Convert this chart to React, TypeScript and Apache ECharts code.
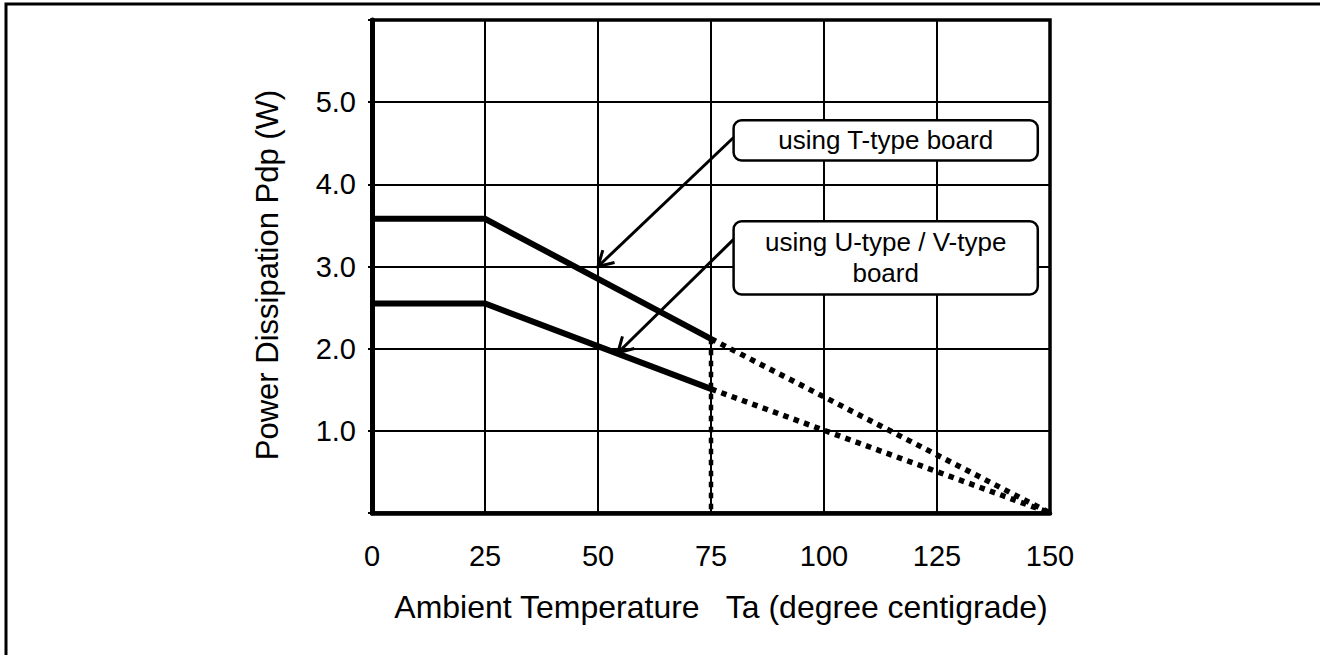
import React, { useEffect, useRef } from "react";
import * as echarts from "echarts";

const xTicks = [0, 25, 50, 75, 100, 125, 150];
const yTickLabels = ["", "1.0", "2.0", "3.0", "4.0", "5.0", ""];
const tTypeSolid = [[0, 3.58], [25, 3.58], [75, 2.12]];
const tTypeDotted = [[75, 2.12], [150, 0]];
const uTypeSolid = [[0, 2.55], [25, 2.55], [75, 1.51]];
const uTypeDotted = [[75, 1.51], [150, 0]];
const limitLine = [[75, 2.12], [75, 0]];
const tArrow = { from: [80, 4.57], to: [50, 3.0] };
const uArrow = { from: [80, 3.33], to: [54.4, 1.95] };
const tBox = { x0: 80, x1: 147.3, y0: 4.78, y1: 4.29, lines: ["using T-type board"] };
const uBox = { x0: 80, x1: 147.3, y0: 3.55, y1: 2.66, lines: ["using U-type / V-type", "board"] };
const xName = "Ambient Temperature   Ta (degree centigrade)";
const yName = "Power Dissipation Pdp (W)";

const FONT = "'Liberation Sans', Arial, Helvetica, sans-serif";

export default function App() {
  const ref = useRef<HTMLDivElement>(null);
  useEffect(() => {
    document.body.style.margin = "0";
    const chart = echarts.init(ref.current!, null, { renderer: "svg" });
    const solid = (data: number[][]) => ({
      type: "line", data, symbol: "none", silent: true,
      lineStyle: { color: "#000", width: 6, cap: "butt", join: "miter" },
    });
    const dotted = (data: number[][], w = 5.5) => ({
      type: "line", data, symbol: "none", silent: true,
      lineStyle: { color: "#000", width: w, type: [5.5, 5.5], cap: "butt" },
    });
    chart.setOption({
      animation: false,
      backgroundColor: "#fff",
      grid: { left: 372, top: 20, right: 270, bottom: 142, show: true, borderColor: "#000", borderWidth: 3.5, backgroundColor: "transparent" },
      xAxis: {
        type: "value", min: 0, max: 150, interval: 25,
        axisLine: { show: true, onZero: false, lineStyle: { color: "#000", width: 4.5 } },
        axisTick: { show: false },
        splitLine: { show: true, lineStyle: { color: "#000", width: 2 } },
        axisLabel: { margin: 28, color: "#000", fontSize: 29, fontFamily: FONT, formatter: (v: number) => String(v) },
      },
      yAxis: {
        type: "value", min: 0, max: 6, interval: 1,
        axisLine: { show: true, onZero: false, lineStyle: { color: "#000", width: 5 } },
        axisTick: { show: true, length: 4, lineStyle: { color: "#000", width: 2 } },
        splitLine: { show: true, lineStyle: { color: "#000", width: 2 } },
        axisLabel: { margin: 16, color: "#000", fontSize: 29, fontFamily: FONT, formatter: (v: number) => yTickLabels[Math.round(v)] ?? "" },
      },
      series: [solid(tTypeSolid), solid(uTypeSolid), dotted(tTypeDotted), dotted(uTypeDotted), dotted(limitLine, 4.5)],
    });

    const px = (p: number[]) => chart.convertToPixel({ gridIndex: 0 }, p) as number[];
    const arrow = (a: { from: number[]; to: number[] }) => {
      const s = px(a.from), t = px(a.to);
      const dx = s[0] - t[0], dy = s[1] - t[1];
      const len = Math.hypot(dx, dy);
      const ux = dx / len, uy = dy / len;
      const L = 17, th = (30 * Math.PI) / 180;
      const rot = (ang: number) => [t[0] + L * (ux * Math.cos(ang) - uy * Math.sin(ang)), t[1] + L * (ux * Math.sin(ang) + uy * Math.cos(ang))];
      const style = { stroke: "#000", lineWidth: 3, fill: null, lineCap: "butt" };
      return [
        { type: "line", shape: { x1: s[0], y1: s[1], x2: t[0], y2: t[1] }, style },
        { type: "polyline", shape: { points: [rot(th), t, rot(-th)] }, style },
      ];
    };
    const box = (b: typeof tBox) => {
      const p0 = px([b.x0, b.y0]), p1 = px([b.x1, b.y1]);
      const cx = (p0[0] + p1[0]) / 2, cy = (p0[1] + p1[1]) / 2;
      return [
        { type: "rect", shape: { x: p0[0], y: p0[1], width: p1[0] - p0[0], height: p1[1] - p0[1], r: 8 }, style: { fill: "#fff", stroke: "#000", lineWidth: 2.5 }, z: 100 },
        { type: "text", x: cx, y: cy, z: 101,
          style: { text: b.lines.join("\n"), align: "center", verticalAlign: "middle", fill: "#000", fontSize: 26, fontFamily: FONT, lineHeight: 31 } },
      ];
    };
    chart.setOption({
      graphic: [
        { type: "rect", shape: { x: 6, y: 4, width: 1400, height: 800 }, style: { fill: null, stroke: "#000", lineWidth: 3 }, silent: true },
        ...arrow(tArrow), ...arrow(uArrow), ...box(tBox), ...box(uBox),
        { type: "text", x: 721, y: 607, style: { text: xName, align: "center", verticalAlign: "middle", fill: "#000", fontSize: 32, fontFamily: FONT } },
        { type: "text", x: 267, y: 275, rotation: Math.PI / 2, style: { text: yName, align: "center", verticalAlign: "middle", fill: "#000", fontSize: 31, fontFamily: FONT } },
      ],
    });
    return () => chart.dispose();
  }, []);
  return <div ref={ref} style={{ width: 1320, height: 655 }} />;
}
